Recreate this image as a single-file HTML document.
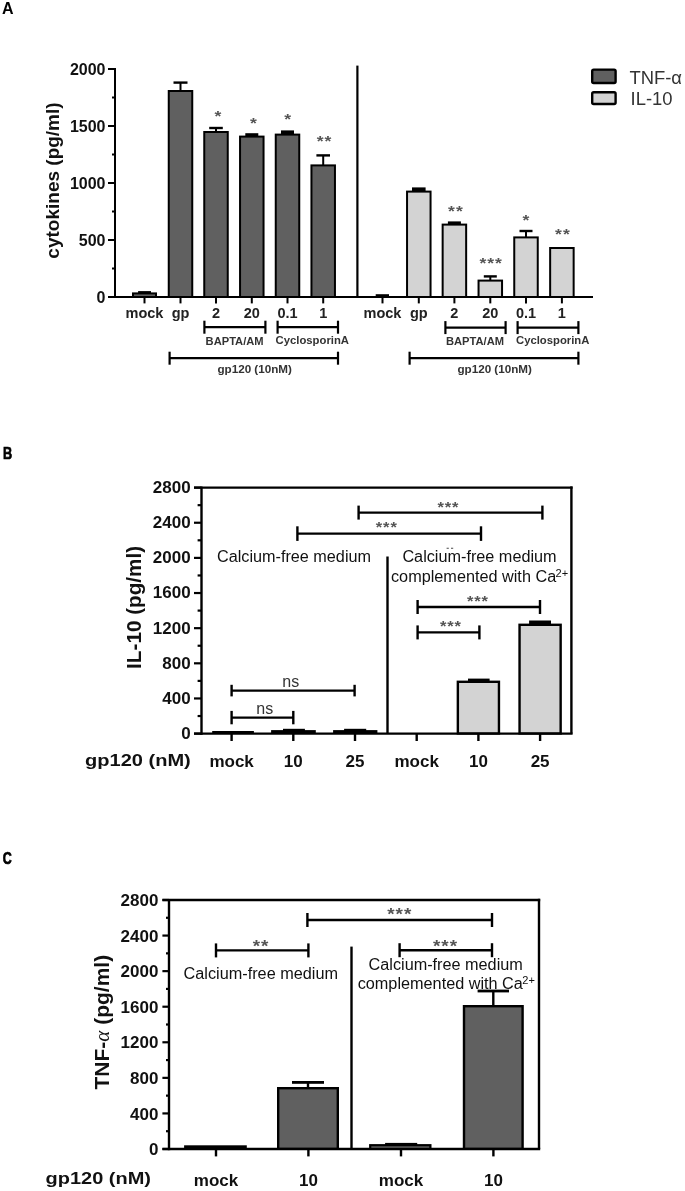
<!DOCTYPE html>
<html><head><meta charset="utf-8"><style>
html,body{margin:0;padding:0;background:#fff;}
svg{display:block;font-family:"Liberation Sans", sans-serif;filter:grayscale(100%);}
</style></head><body>
<svg width="685" height="1191" viewBox="0 0 685 1191">
<rect width="685" height="1191" fill="#fff"/>
<text x="2" y="14" font-size="16" font-weight="bold" text-anchor="start" fill="#000" >A</text>
<line x1="115" y1="68" x2="115" y2="298" stroke="#000" stroke-width="2"/>
<line x1="108" y1="297" x2="115" y2="297" stroke="#000" stroke-width="2"/>
<text x="105.5" y="302.6" font-size="16" font-weight="bold" text-anchor="end" fill="#111" >0</text>
<line x1="108" y1="240" x2="115" y2="240" stroke="#000" stroke-width="2"/>
<text x="105.5" y="245.6" font-size="16" font-weight="bold" text-anchor="end" fill="#111" >500</text>
<line x1="108" y1="183" x2="115" y2="183" stroke="#000" stroke-width="2"/>
<text x="105.5" y="188.6" font-size="16" font-weight="bold" text-anchor="end" fill="#111" >1000</text>
<line x1="108" y1="126" x2="115" y2="126" stroke="#000" stroke-width="2"/>
<text x="105.5" y="131.6" font-size="16" font-weight="bold" text-anchor="end" fill="#111" >1500</text>
<line x1="108" y1="69" x2="115" y2="69" stroke="#000" stroke-width="2"/>
<text x="105.5" y="74.6" font-size="16" font-weight="bold" text-anchor="end" fill="#111" >2000</text>
<line x1="112" y1="268.5" x2="115" y2="268.5" stroke="#000" stroke-width="2"/>
<line x1="112" y1="211.5" x2="115" y2="211.5" stroke="#000" stroke-width="2"/>
<line x1="112" y1="154.5" x2="115" y2="154.5" stroke="#000" stroke-width="2"/>
<line x1="112" y1="97.5" x2="115" y2="97.5" stroke="#000" stroke-width="2"/>
<text transform="translate(58.5,180.5) rotate(-90)" font-size="19" font-weight="bold" text-anchor="middle" fill="#111">cytokines (pg/ml)</text>
<line x1="108" y1="297" x2="593" y2="297" stroke="#000" stroke-width="2.2"/>
<line x1="357.4" y1="65.6" x2="357.4" y2="297" stroke="#000" stroke-width="2.2"/>
<rect x="133.0" y="293.4" width="23" height="3.6000000000000227" fill="#606060" stroke="#000" stroke-width="2"/>
<rect x="138.1" y="291.1" width="12.900000000000006" height="2.5" fill="#000"/>
<line x1="180.5" y1="82.6" x2="180.5" y2="91" stroke="#000" stroke-width="2"/>
<line x1="173.5" y1="82.6" x2="187.5" y2="82.6" stroke="#000" stroke-width="2.4"/>
<rect x="168.75" y="91.0" width="23.5" height="206" fill="#606060" stroke="#000" stroke-width="2"/>
<line x1="216" y1="128" x2="216" y2="132" stroke="#000" stroke-width="2"/>
<line x1="209.2" y1="128" x2="222.8" y2="128" stroke="#000" stroke-width="2.4"/>
<rect x="204.25" y="132.0" width="23.5" height="165" fill="#606060" stroke="#000" stroke-width="2"/>
<rect x="245.3" y="133.20000000000002" width="13.0" height="3.3999999999999773" fill="#000"/>
<rect x="240.05" y="136.6" width="23.5" height="160.4" fill="#606060" stroke="#000" stroke-width="2"/>
<rect x="281.0" y="130.4" width="13.0" height="4.199999999999989" fill="#000"/>
<rect x="275.75" y="134.6" width="23.5" height="162.4" fill="#606060" stroke="#000" stroke-width="2"/>
<line x1="323.2" y1="155.4" x2="323.2" y2="165.4" stroke="#000" stroke-width="2"/>
<line x1="316.4" y1="155.4" x2="330.0" y2="155.4" stroke="#000" stroke-width="2.4"/>
<rect x="311.45" y="165.4" width="23.5" height="131.6" fill="#606060" stroke="#000" stroke-width="2"/>
<text transform="translate(218.00,113.00) scale(1,0.879)" x="0" y="9.02" font-size="17.60" font-weight="bold" text-anchor="middle" fill="#555555">*</text>
<text transform="translate(253.40,120.00) scale(1,0.879)" x="0" y="9.02" font-size="17.60" font-weight="bold" text-anchor="middle" fill="#555555">*</text>
<text transform="translate(287.60,116.00) scale(1,0.879)" x="0" y="9.02" font-size="17.60" font-weight="bold" text-anchor="middle" fill="#555555">*</text>
<text transform="translate(320.10,138.40) scale(1,0.879)" x="0" y="9.02" font-size="17.60" font-weight="bold" text-anchor="middle" fill="#555555">*</text>
<text transform="translate(327.90,138.40) scale(1,0.879)" x="0" y="9.02" font-size="17.60" font-weight="bold" text-anchor="middle" fill="#555555">*</text>
<rect x="375.7" y="294.2" width="13.300000000000011" height="2.3000000000000114" fill="#000"/>
<rect x="412.0" y="187.4" width="13.600000000000023" height="4.199999999999989" fill="#000"/>
<rect x="407.05" y="191.6" width="23.5" height="105.4" fill="#d3d3d3" stroke="#000" stroke-width="2"/>
<rect x="447.9" y="221.4" width="13.0" height="3.1999999999999886" fill="#000"/>
<rect x="442.65" y="224.6" width="23.5" height="72.4" fill="#d3d3d3" stroke="#000" stroke-width="2"/>
<line x1="490.3" y1="276.4" x2="490.3" y2="280.6" stroke="#000" stroke-width="2"/>
<line x1="483.8" y1="276.4" x2="496.8" y2="276.4" stroke="#000" stroke-width="2.4"/>
<rect x="478.55" y="280.6" width="23.5" height="16.399999999999977" fill="#d3d3d3" stroke="#000" stroke-width="2"/>
<line x1="526" y1="231" x2="526" y2="237.4" stroke="#000" stroke-width="2"/>
<line x1="519.5" y1="231" x2="532.5" y2="231" stroke="#000" stroke-width="2.4"/>
<rect x="514.25" y="237.4" width="23.5" height="59.599999999999994" fill="#d3d3d3" stroke="#000" stroke-width="2"/>
<rect x="550.15" y="248.0" width="23.5" height="49" fill="#d3d3d3" stroke="#000" stroke-width="2"/>
<text transform="translate(451.50,208.00) scale(1,0.879)" x="0" y="9.02" font-size="17.60" font-weight="bold" text-anchor="middle" fill="#555555">*</text>
<text transform="translate(459.30,208.00) scale(1,0.879)" x="0" y="9.02" font-size="17.60" font-weight="bold" text-anchor="middle" fill="#555555">*</text>
<text transform="translate(482.80,260.40) scale(1,0.879)" x="0" y="9.02" font-size="17.60" font-weight="bold" text-anchor="middle" fill="#555555">*</text>
<text transform="translate(490.60,260.40) scale(1,0.879)" x="0" y="9.02" font-size="17.60" font-weight="bold" text-anchor="middle" fill="#555555">*</text>
<text transform="translate(498.40,260.40) scale(1,0.879)" x="0" y="9.02" font-size="17.60" font-weight="bold" text-anchor="middle" fill="#555555">*</text>
<text transform="translate(526.00,217.00) scale(1,0.879)" x="0" y="9.02" font-size="17.60" font-weight="bold" text-anchor="middle" fill="#555555">*</text>
<text transform="translate(558.50,230.60) scale(1,0.879)" x="0" y="9.02" font-size="17.60" font-weight="bold" text-anchor="middle" fill="#555555">*</text>
<text transform="translate(566.30,230.60) scale(1,0.879)" x="0" y="9.02" font-size="17.60" font-weight="bold" text-anchor="middle" fill="#555555">*</text>
<line x1="144.5" y1="297" x2="144.5" y2="303.4" stroke="#000" stroke-width="2"/>
<line x1="180.5" y1="297" x2="180.5" y2="303.4" stroke="#000" stroke-width="2"/>
<line x1="216" y1="297" x2="216" y2="303.4" stroke="#000" stroke-width="2"/>
<line x1="251.8" y1="297" x2="251.8" y2="303.4" stroke="#000" stroke-width="2"/>
<line x1="287.5" y1="297" x2="287.5" y2="303.4" stroke="#000" stroke-width="2"/>
<line x1="323.2" y1="297" x2="323.2" y2="303.4" stroke="#000" stroke-width="2"/>
<line x1="382.5" y1="297" x2="382.5" y2="303.4" stroke="#000" stroke-width="2"/>
<line x1="418.8" y1="297" x2="418.8" y2="303.4" stroke="#000" stroke-width="2"/>
<line x1="454.4" y1="297" x2="454.4" y2="303.4" stroke="#000" stroke-width="2"/>
<line x1="490.3" y1="297" x2="490.3" y2="303.4" stroke="#000" stroke-width="2"/>
<line x1="526" y1="297" x2="526" y2="303.4" stroke="#000" stroke-width="2"/>
<line x1="561.9" y1="297" x2="561.9" y2="303.4" stroke="#000" stroke-width="2"/>
<text x="144.5" y="318.4" font-size="14.5" font-weight="bold" text-anchor="middle" fill="#222" >mock</text>
<text x="180.5" y="318.4" font-size="14.5" font-weight="bold" text-anchor="middle" fill="#222" >gp</text>
<text x="216" y="318.4" font-size="14.5" font-weight="bold" text-anchor="middle" fill="#222" >2</text>
<text x="251.8" y="318.4" font-size="14.5" font-weight="bold" text-anchor="middle" fill="#222" >20</text>
<text x="287.5" y="318.4" font-size="14.5" font-weight="bold" text-anchor="middle" fill="#222" >0.1</text>
<text x="323.2" y="318.4" font-size="14.5" font-weight="bold" text-anchor="middle" fill="#222" >1</text>
<text x="382.5" y="318.4" font-size="14.5" font-weight="bold" text-anchor="middle" fill="#222" >mock</text>
<text x="418.8" y="318.4" font-size="14.5" font-weight="bold" text-anchor="middle" fill="#222" >gp</text>
<text x="454.4" y="318.4" font-size="14.5" font-weight="bold" text-anchor="middle" fill="#222" >2</text>
<text x="490.3" y="318.4" font-size="14.5" font-weight="bold" text-anchor="middle" fill="#222" >20</text>
<text x="526" y="318.4" font-size="14.5" font-weight="bold" text-anchor="middle" fill="#222" >0.1</text>
<text x="561.9" y="318.4" font-size="14.5" font-weight="bold" text-anchor="middle" fill="#222" >1</text>
<line x1="204.4" y1="327.2" x2="265.4" y2="327.2" stroke="#000" stroke-width="2.2"/>
<line x1="204.4" y1="320.7" x2="204.4" y2="333.7" stroke="#000" stroke-width="2.2"/>
<line x1="265.4" y1="320.7" x2="265.4" y2="333.7" stroke="#000" stroke-width="2.2"/>
<line x1="277.6" y1="327.2" x2="338" y2="327.2" stroke="#000" stroke-width="2.2"/>
<line x1="277.6" y1="320.7" x2="277.6" y2="333.7" stroke="#000" stroke-width="2.2"/>
<line x1="338" y1="320.7" x2="338" y2="333.7" stroke="#000" stroke-width="2.2"/>
<line x1="169.6" y1="358.2" x2="338" y2="358.2" stroke="#000" stroke-width="2.2"/>
<line x1="169.6" y1="351.7" x2="169.6" y2="364.7" stroke="#000" stroke-width="2.2"/>
<line x1="338" y1="351.7" x2="338" y2="364.7" stroke="#000" stroke-width="2.2"/>
<line x1="445.4" y1="327.6" x2="505.6" y2="327.6" stroke="#000" stroke-width="2.2"/>
<line x1="445.4" y1="321.1" x2="445.4" y2="334.1" stroke="#000" stroke-width="2.2"/>
<line x1="505.6" y1="321.1" x2="505.6" y2="334.1" stroke="#000" stroke-width="2.2"/>
<line x1="517.6" y1="327.6" x2="578.4" y2="327.6" stroke="#000" stroke-width="2.2"/>
<line x1="517.6" y1="321.1" x2="517.6" y2="334.1" stroke="#000" stroke-width="2.2"/>
<line x1="578.4" y1="321.1" x2="578.4" y2="334.1" stroke="#000" stroke-width="2.2"/>
<line x1="409.6" y1="358.2" x2="578.4" y2="358.2" stroke="#000" stroke-width="2.2"/>
<line x1="409.6" y1="351.7" x2="409.6" y2="364.7" stroke="#000" stroke-width="2.2"/>
<line x1="578.4" y1="351.7" x2="578.4" y2="364.7" stroke="#000" stroke-width="2.2"/>
<text x="234.6" y="344.6" font-size="11" font-weight="bold" text-anchor="middle" fill="#333" textLength="58" lengthAdjust="spacingAndGlyphs" >BAPTA/AM</text>
<text x="312.3" y="344.4" font-size="11" font-weight="bold" text-anchor="middle" fill="#333" textLength="73.4" lengthAdjust="spacingAndGlyphs" >CyclosporinA</text>
<text x="254.7" y="373" font-size="11" font-weight="bold" text-anchor="middle" fill="#333" textLength="74.5" lengthAdjust="spacingAndGlyphs" >gp120 (10nM)</text>
<text x="475" y="344.6" font-size="11" font-weight="bold" text-anchor="middle" fill="#333" textLength="58" lengthAdjust="spacingAndGlyphs" >BAPTA/AM</text>
<text x="552.7" y="344.4" font-size="11" font-weight="bold" text-anchor="middle" fill="#333" textLength="73.4" lengthAdjust="spacingAndGlyphs" >CyclosporinA</text>
<text x="494.7" y="373" font-size="11" font-weight="bold" text-anchor="middle" fill="#333" textLength="74.5" lengthAdjust="spacingAndGlyphs" >gp120 (10nM)</text>
<rect x="592.2" y="69.6" width="23.4" height="13.4" rx="1.5" fill="#606060" stroke="#000" stroke-width="2.4"/>
<rect x="592.2" y="92.3" width="23.4" height="11.7" rx="1.5" fill="#d3d3d3" stroke="#000" stroke-width="2.4"/>
<text x="629.4" y="83.8" font-size="18" font-weight="normal" text-anchor="start" fill="#333" textLength="52.6" lengthAdjust="spacingAndGlyphs" >TNF-α</text>
<text x="630.6" y="104.5" font-size="18" font-weight="normal" text-anchor="start" fill="#333" textLength="42" lengthAdjust="spacingAndGlyphs" >IL-10</text>
<text x="2.9" y="458.8" font-size="16" font-weight="bold" text-anchor="start" fill="#000" textLength="9.2" lengthAdjust="spacingAndGlyphs" stroke="#000" stroke-width="0.7">B</text>
<line x1="201.5" y1="486.6" x2="201.5" y2="734.8000000000001" stroke="#000" stroke-width="2.4"/>
<line x1="194" y1="487.6" x2="572.6" y2="487.6" stroke="#000" stroke-width="2.4"/>
<line x1="571.4" y1="486.40000000000003" x2="571.4" y2="733.6" stroke="#000" stroke-width="2.4"/>
<line x1="194" y1="733.6" x2="572.6" y2="733.6" stroke="#000" stroke-width="2.4"/>
<line x1="194" y1="733.6" x2="201.5" y2="733.6" stroke="#000" stroke-width="2.2"/>
<text x="190.6" y="739.0" font-size="17" font-weight="bold" text-anchor="end" fill="#111" >0</text>
<line x1="194" y1="698.4571428571429" x2="201.5" y2="698.4571428571429" stroke="#000" stroke-width="2.2"/>
<text x="190.6" y="703.8571428571429" font-size="17" font-weight="bold" text-anchor="end" fill="#111" >400</text>
<line x1="194" y1="663.3142857142857" x2="201.5" y2="663.3142857142857" stroke="#000" stroke-width="2.2"/>
<text x="190.6" y="668.7142857142857" font-size="17" font-weight="bold" text-anchor="end" fill="#111" >800</text>
<line x1="194" y1="628.1714285714286" x2="201.5" y2="628.1714285714286" stroke="#000" stroke-width="2.2"/>
<text x="190.6" y="633.5714285714286" font-size="17" font-weight="bold" text-anchor="end" fill="#111" >1200</text>
<line x1="194" y1="593.0285714285715" x2="201.5" y2="593.0285714285715" stroke="#000" stroke-width="2.2"/>
<text x="190.6" y="598.4285714285714" font-size="17" font-weight="bold" text-anchor="end" fill="#111" >1600</text>
<line x1="194" y1="557.8857142857144" x2="201.5" y2="557.8857142857144" stroke="#000" stroke-width="2.2"/>
<text x="190.6" y="563.2857142857143" font-size="17" font-weight="bold" text-anchor="end" fill="#111" >2000</text>
<line x1="194" y1="522.7428571428571" x2="201.5" y2="522.7428571428571" stroke="#000" stroke-width="2.2"/>
<text x="190.6" y="528.1428571428571" font-size="17" font-weight="bold" text-anchor="end" fill="#111" >2400</text>
<line x1="194" y1="487.6" x2="201.5" y2="487.6" stroke="#000" stroke-width="2.2"/>
<text x="190.6" y="493.0" font-size="17" font-weight="bold" text-anchor="end" fill="#111" >2800</text>
<line x1="197.6" y1="716.0285714285715" x2="201.5" y2="716.0285714285715" stroke="#000" stroke-width="2.2"/>
<line x1="197.6" y1="680.8857142857144" x2="201.5" y2="680.8857142857144" stroke="#000" stroke-width="2.2"/>
<line x1="197.6" y1="645.7428571428571" x2="201.5" y2="645.7428571428571" stroke="#000" stroke-width="2.2"/>
<line x1="197.6" y1="610.6" x2="201.5" y2="610.6" stroke="#000" stroke-width="2.2"/>
<line x1="197.6" y1="575.4571428571429" x2="201.5" y2="575.4571428571429" stroke="#000" stroke-width="2.2"/>
<line x1="197.6" y1="540.3142857142857" x2="201.5" y2="540.3142857142857" stroke="#000" stroke-width="2.2"/>
<line x1="197.6" y1="505.1714285714286" x2="201.5" y2="505.1714285714286" stroke="#000" stroke-width="2.2"/>
<text transform="translate(140.6,607.4) rotate(-90)" font-size="20.7" font-weight="bold" text-anchor="middle" fill="#111">IL-10 (pg/ml)</text>
<line x1="387.5" y1="556.5" x2="387.5" y2="733.6" stroke="#000" stroke-width="2.4"/>
<line x1="231.6" y1="733.6" x2="231.6" y2="741" stroke="#000" stroke-width="2.4"/>
<line x1="293.3" y1="733.6" x2="293.3" y2="741" stroke="#000" stroke-width="2.4"/>
<line x1="355.0" y1="733.6" x2="355.0" y2="741" stroke="#000" stroke-width="2.4"/>
<line x1="416.70000000000005" y1="733.6" x2="416.70000000000005" y2="741" stroke="#000" stroke-width="2.4"/>
<line x1="478.4" y1="733.6" x2="478.4" y2="741" stroke="#000" stroke-width="2.4"/>
<line x1="540.1" y1="733.6" x2="540.1" y2="741" stroke="#000" stroke-width="2.4"/>
<text x="231.6" y="766.6" font-size="17" font-weight="bold" text-anchor="middle" fill="#111" >mock</text>
<text x="293.3" y="766.6" font-size="17" font-weight="bold" text-anchor="middle" fill="#111" >10</text>
<text x="355.0" y="766.6" font-size="17" font-weight="bold" text-anchor="middle" fill="#111" >25</text>
<text x="416.70000000000005" y="766.6" font-size="17" font-weight="bold" text-anchor="middle" fill="#111" >mock</text>
<text x="478.4" y="766.6" font-size="17" font-weight="bold" text-anchor="middle" fill="#111" >10</text>
<text x="540.1" y="766.6" font-size="17" font-weight="bold" text-anchor="middle" fill="#111" >25</text>
<text x="85" y="765.7" font-size="17" font-weight="bold" text-anchor="start" fill="#111" textLength="105.8" lengthAdjust="spacingAndGlyphs" >gp120 (nM)</text>
<rect x="212.2" y="731" width="41.70000000000002" height="3" fill="#000"/>
<rect x="271.1" y="730.1" width="44.69999999999999" height="3.8999999999999773" fill="#000"/>
<rect x="283" y="728.8" width="21.899999999999977" height="2.2000000000000455" fill="#000"/>
<rect x="333.1" y="730.1" width="44.299999999999955" height="3.8999999999999773" fill="#000"/>
<rect x="344.1" y="728.8" width="22.099999999999966" height="2.2000000000000455" fill="#000"/>
<rect x="457.84999999999997" y="681.8000000000001" width="41.1" height="51.6" fill="#d3d3d3" stroke="#000" stroke-width="2.4"/>
<rect x="468" y="678.6" width="21.600000000000023" height="3.3999999999999773" fill="#000"/>
<rect x="519.5500000000001" y="624.8000000000001" width="41.1" height="108.6" fill="#d3d3d3" stroke="#000" stroke-width="2.4"/>
<rect x="529.1" y="620.5" width="21.899999999999977" height="4.0" fill="#000"/>
<line x1="231.6" y1="717.6" x2="293.3" y2="717.6" stroke="#000" stroke-width="2.4"/>
<line x1="231.6" y1="710.9" x2="231.6" y2="724.3000000000001" stroke="#000" stroke-width="2.4"/>
<line x1="293.3" y1="710.9" x2="293.3" y2="724.3000000000001" stroke="#000" stroke-width="2.4"/>
<line x1="231.6" y1="690.6" x2="354.6" y2="690.6" stroke="#000" stroke-width="2.4"/>
<line x1="231.6" y1="684.8000000000001" x2="231.6" y2="696.4" stroke="#000" stroke-width="2.4"/>
<line x1="354.6" y1="684.8000000000001" x2="354.6" y2="696.4" stroke="#000" stroke-width="2.4"/>
<text x="264.8" y="714" font-size="16" font-weight="normal" text-anchor="middle" fill="#333" >ns</text>
<text x="290.7" y="687" font-size="16" font-weight="normal" text-anchor="middle" fill="#333" >ns</text>
<line x1="297.4" y1="533.6" x2="481" y2="533.6" stroke="#000" stroke-width="2.4"/>
<line x1="297.4" y1="526.3000000000001" x2="297.4" y2="540.9" stroke="#000" stroke-width="2.4"/>
<line x1="481" y1="526.3000000000001" x2="481" y2="540.9" stroke="#000" stroke-width="2.4"/>
<line x1="358.6" y1="512.6" x2="542.4" y2="512.6" stroke="#000" stroke-width="2.4"/>
<line x1="358.6" y1="505.6" x2="358.6" y2="519.6" stroke="#000" stroke-width="2.4"/>
<line x1="542.4" y1="505.6" x2="542.4" y2="519.6" stroke="#000" stroke-width="2.4"/>
<line x1="417.6" y1="607" x2="540" y2="607" stroke="#000" stroke-width="2.4"/>
<line x1="417.6" y1="600.0" x2="417.6" y2="614.0" stroke="#000" stroke-width="2.4"/>
<line x1="540" y1="600.0" x2="540" y2="614.0" stroke="#000" stroke-width="2.4"/>
<line x1="417.6" y1="632.4" x2="479.4" y2="632.4" stroke="#000" stroke-width="2.4"/>
<line x1="417.6" y1="625.4" x2="417.6" y2="639.4" stroke="#000" stroke-width="2.4"/>
<line x1="479.4" y1="625.4" x2="479.4" y2="639.4" stroke="#000" stroke-width="2.4"/>
<text transform="translate(379.00,524.60) scale(1,0.887)" x="0" y="8.47" font-size="16.53" font-weight="bold" text-anchor="middle" fill="#555555">*</text>
<text transform="translate(386.30,524.60) scale(1,0.887)" x="0" y="8.47" font-size="16.53" font-weight="bold" text-anchor="middle" fill="#555555">*</text>
<text transform="translate(393.60,524.60) scale(1,0.887)" x="0" y="8.47" font-size="16.53" font-weight="bold" text-anchor="middle" fill="#555555">*</text>
<text transform="translate(440.70,504.60) scale(1,0.887)" x="0" y="8.47" font-size="16.53" font-weight="bold" text-anchor="middle" fill="#555555">*</text>
<text transform="translate(448.00,504.60) scale(1,0.887)" x="0" y="8.47" font-size="16.53" font-weight="bold" text-anchor="middle" fill="#555555">*</text>
<text transform="translate(455.30,504.60) scale(1,0.887)" x="0" y="8.47" font-size="16.53" font-weight="bold" text-anchor="middle" fill="#555555">*</text>
<text transform="translate(470.20,598.00) scale(1,0.887)" x="0" y="8.47" font-size="16.53" font-weight="bold" text-anchor="middle" fill="#555555">*</text>
<text transform="translate(477.50,598.00) scale(1,0.887)" x="0" y="8.47" font-size="16.53" font-weight="bold" text-anchor="middle" fill="#555555">*</text>
<text transform="translate(484.80,598.00) scale(1,0.887)" x="0" y="8.47" font-size="16.53" font-weight="bold" text-anchor="middle" fill="#555555">*</text>
<text transform="translate(443.20,623.00) scale(1,0.887)" x="0" y="8.47" font-size="16.53" font-weight="bold" text-anchor="middle" fill="#555555">*</text>
<text transform="translate(450.50,623.00) scale(1,0.887)" x="0" y="8.47" font-size="16.53" font-weight="bold" text-anchor="middle" fill="#555555">*</text>
<text transform="translate(457.80,623.00) scale(1,0.887)" x="0" y="8.47" font-size="16.53" font-weight="bold" text-anchor="middle" fill="#555555">*</text>
<text x="217" y="561.6" font-size="16" font-weight="normal" text-anchor="start" fill="#111" textLength="154" lengthAdjust="spacingAndGlyphs" >Calcium-free medium</text>
<text x="402.4" y="561.6" font-size="16" font-weight="normal" text-anchor="start" fill="#111" textLength="154.2" lengthAdjust="spacingAndGlyphs" >Calcium-free medium</text>
<text x="391" y="581.6" font-size="16" font-weight="normal" text-anchor="start" fill="#111" textLength="165.2" lengthAdjust="spacingAndGlyphs" >complemented with Ca</text>
<text x="555.6" y="576.7" font-size="11.4" font-weight="normal" text-anchor="start" fill="#111" textLength="12.6" lengthAdjust="spacingAndGlyphs" >2+</text>
<rect x="446.6" y="547.7" width="2.1999999999999886" height="1.1999999999999318" fill="#666"/>
<rect x="451" y="547.7" width="2.1999999999999886" height="1.1999999999999318" fill="#666"/>
<text x="2.7" y="863.7" font-size="16" font-weight="bold" text-anchor="start" fill="#000" textLength="9.0" lengthAdjust="spacingAndGlyphs" stroke="#000" stroke-width="0.7">C</text>
<line x1="169" y1="899" x2="169" y2="1150.2" stroke="#000" stroke-width="2.4"/>
<line x1="162.4" y1="900" x2="540.2" y2="900" stroke="#000" stroke-width="2.4"/>
<line x1="539" y1="898.8" x2="539" y2="1149" stroke="#000" stroke-width="2.4"/>
<line x1="162.4" y1="1149" x2="540.2" y2="1149" stroke="#000" stroke-width="2.4"/>
<line x1="162.4" y1="1149.0" x2="169" y2="1149.0" stroke="#000" stroke-width="2.2"/>
<text x="158.4" y="1155.1" font-size="17" font-weight="bold" text-anchor="end" fill="#111" >0</text>
<line x1="162.4" y1="1113.4285714285713" x2="169" y2="1113.4285714285713" stroke="#000" stroke-width="2.2"/>
<text x="158.4" y="1119.5285714285712" font-size="17" font-weight="bold" text-anchor="end" fill="#111" >400</text>
<line x1="162.4" y1="1077.857142857143" x2="169" y2="1077.857142857143" stroke="#000" stroke-width="2.2"/>
<text x="158.4" y="1083.9571428571428" font-size="17" font-weight="bold" text-anchor="end" fill="#111" >800</text>
<line x1="162.4" y1="1042.2857142857142" x2="169" y2="1042.2857142857142" stroke="#000" stroke-width="2.2"/>
<text x="158.4" y="1048.3857142857141" font-size="17" font-weight="bold" text-anchor="end" fill="#111" >1200</text>
<line x1="162.4" y1="1006.7142857142858" x2="169" y2="1006.7142857142858" stroke="#000" stroke-width="2.2"/>
<text x="158.4" y="1012.8142857142858" font-size="17" font-weight="bold" text-anchor="end" fill="#111" >1600</text>
<line x1="162.4" y1="971.1428571428571" x2="169" y2="971.1428571428571" stroke="#000" stroke-width="2.2"/>
<text x="158.4" y="977.2428571428571" font-size="17" font-weight="bold" text-anchor="end" fill="#111" >2000</text>
<line x1="162.4" y1="935.5714285714286" x2="169" y2="935.5714285714286" stroke="#000" stroke-width="2.2"/>
<text x="158.4" y="941.6714285714286" font-size="17" font-weight="bold" text-anchor="end" fill="#111" >2400</text>
<line x1="162.4" y1="900.0" x2="169" y2="900.0" stroke="#000" stroke-width="2.2"/>
<text x="158.4" y="906.1" font-size="17" font-weight="bold" text-anchor="end" fill="#111" >2800</text>
<line x1="166" y1="1131.2142857142858" x2="169" y2="1131.2142857142858" stroke="#000" stroke-width="2.2"/>
<line x1="166" y1="1095.642857142857" x2="169" y2="1095.642857142857" stroke="#000" stroke-width="2.2"/>
<line x1="166" y1="1060.0714285714287" x2="169" y2="1060.0714285714287" stroke="#000" stroke-width="2.2"/>
<line x1="166" y1="1024.5" x2="169" y2="1024.5" stroke="#000" stroke-width="2.2"/>
<line x1="166" y1="988.9285714285714" x2="169" y2="988.9285714285714" stroke="#000" stroke-width="2.2"/>
<line x1="166" y1="953.3571428571429" x2="169" y2="953.3571428571429" stroke="#000" stroke-width="2.2"/>
<line x1="166" y1="917.7857142857142" x2="169" y2="917.7857142857142" stroke="#000" stroke-width="2.2"/>
<text transform="translate(108.8,1022.2) rotate(-90)" font-size="21" font-weight="bold" text-anchor="middle" fill="#111">TNF-<tspan font-weight="normal" font-family="Liberation Serif" font-style="italic">α</tspan> (pg/ml)</text>
<line x1="351.5" y1="946.6" x2="351.5" y2="1149" stroke="#000" stroke-width="2.4"/>
<line x1="216" y1="1149" x2="216" y2="1156.4" stroke="#000" stroke-width="2.4"/>
<line x1="308.4" y1="1149" x2="308.4" y2="1156.4" stroke="#000" stroke-width="2.4"/>
<line x1="401" y1="1149" x2="401" y2="1156.4" stroke="#000" stroke-width="2.4"/>
<line x1="493.4" y1="1149" x2="493.4" y2="1156.4" stroke="#000" stroke-width="2.4"/>
<text x="216" y="1185.6" font-size="17" font-weight="bold" text-anchor="middle" fill="#111" >mock</text>
<text x="308.4" y="1185.6" font-size="17" font-weight="bold" text-anchor="middle" fill="#111" >10</text>
<text x="401" y="1185.6" font-size="17" font-weight="bold" text-anchor="middle" fill="#111" >mock</text>
<text x="493.4" y="1185.6" font-size="17" font-weight="bold" text-anchor="middle" fill="#111" >10</text>
<text x="45.6" y="1184.4" font-size="17" font-weight="bold" text-anchor="start" fill="#111" textLength="105.4" lengthAdjust="spacingAndGlyphs" >gp120 (nM)</text>
<rect x="184.1" y="1145.3" width="62.70000000000002" height="3.7000000000000455" fill="#000"/>
<line x1="308" y1="1082.4" x2="308" y2="1088" stroke="#000" stroke-width="2.4"/>
<line x1="292.0" y1="1082.4" x2="324.0" y2="1082.4" stroke="#000" stroke-width="2.8"/>
<rect x="278.2" y="1088.2" width="59.6" height="60.6" fill="#606060" stroke="#000" stroke-width="2.4"/>
<rect x="370.20000000000005" y="1145.1999999999998" width="60.199999999999974" height="3.7000000000000908" fill="#606060" stroke="#000" stroke-width="2.2"/>
<rect x="385.1" y="1142.9" width="32.099999999999966" height="2.099999999999909" fill="#000"/>
<line x1="493.3" y1="991" x2="493.3" y2="1006" stroke="#000" stroke-width="2.4"/>
<line x1="477.6" y1="991" x2="509.0" y2="991" stroke="#000" stroke-width="2.8"/>
<rect x="464.0" y="1006.2" width="58.599999999999945" height="142.6" fill="#606060" stroke="#000" stroke-width="2.4"/>
<line x1="216" y1="950.4" x2="308.4" y2="950.4" stroke="#000" stroke-width="2.4"/>
<line x1="216" y1="943.4" x2="216" y2="957.4" stroke="#000" stroke-width="2.4"/>
<line x1="308.4" y1="943.4" x2="308.4" y2="957.4" stroke="#000" stroke-width="2.4"/>
<line x1="307.4" y1="920" x2="492" y2="920" stroke="#000" stroke-width="2.4"/>
<line x1="307.4" y1="913.0" x2="307.4" y2="927.0" stroke="#000" stroke-width="2.4"/>
<line x1="492" y1="913.0" x2="492" y2="927.0" stroke="#000" stroke-width="2.4"/>
<line x1="399.6" y1="950.2" x2="492" y2="950.2" stroke="#000" stroke-width="2.4"/>
<line x1="399.6" y1="943.2" x2="399.6" y2="957.2" stroke="#000" stroke-width="2.4"/>
<line x1="492" y1="943.2" x2="492" y2="957.2" stroke="#000" stroke-width="2.4"/>
<text transform="translate(256.40,943.90) scale(1,0.845)" x="0" y="9.70" font-size="18.93" font-weight="bold" text-anchor="middle" fill="#555555">*</text>
<text transform="translate(264.80,943.90) scale(1,0.845)" x="0" y="9.70" font-size="18.93" font-weight="bold" text-anchor="middle" fill="#555555">*</text>
<text transform="translate(390.90,911.30) scale(1,0.845)" x="0" y="9.70" font-size="18.93" font-weight="bold" text-anchor="middle" fill="#555555">*</text>
<text transform="translate(399.30,911.30) scale(1,0.845)" x="0" y="9.70" font-size="18.93" font-weight="bold" text-anchor="middle" fill="#555555">*</text>
<text transform="translate(407.70,911.30) scale(1,0.845)" x="0" y="9.70" font-size="18.93" font-weight="bold" text-anchor="middle" fill="#555555">*</text>
<text transform="translate(436.60,943.90) scale(1,0.845)" x="0" y="9.70" font-size="18.93" font-weight="bold" text-anchor="middle" fill="#555555">*</text>
<text transform="translate(445.00,943.90) scale(1,0.845)" x="0" y="9.70" font-size="18.93" font-weight="bold" text-anchor="middle" fill="#555555">*</text>
<text transform="translate(453.40,943.90) scale(1,0.845)" x="0" y="9.70" font-size="18.93" font-weight="bold" text-anchor="middle" fill="#555555">*</text>
<text x="183.6" y="979" font-size="16" font-weight="normal" text-anchor="start" fill="#111" textLength="154.4" lengthAdjust="spacingAndGlyphs" >Calcium-free medium</text>
<text x="368.6" y="969.6" font-size="16" font-weight="normal" text-anchor="start" fill="#111" textLength="154.2" lengthAdjust="spacingAndGlyphs" >Calcium-free medium</text>
<text x="357.7" y="988.6" font-size="16" font-weight="normal" text-anchor="start" fill="#111" textLength="165.2" lengthAdjust="spacingAndGlyphs" >complemented with Ca</text>
<text x="522.3" y="983.7" font-size="11.4" font-weight="normal" text-anchor="start" fill="#111" textLength="12.6" lengthAdjust="spacingAndGlyphs" >2+</text>
</svg>
</body></html>
